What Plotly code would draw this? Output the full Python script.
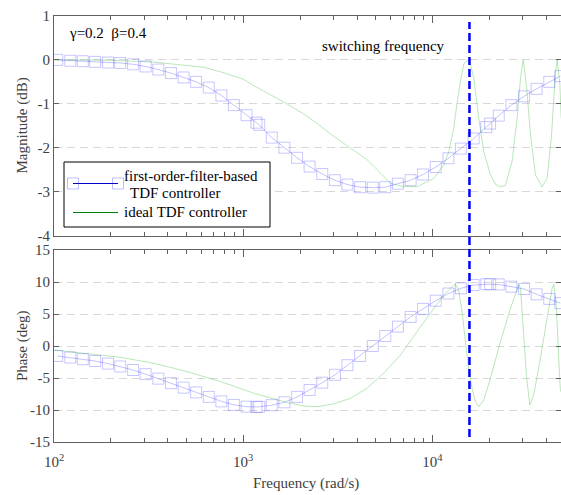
import plotly.graph_objects as go

# ---------------- data ----------------
# first-order-filter-based TDF controller (blue, squares)
blue_freq = [104, 122, 142, 165, 193, 224, 262, 305, 356, 415, 484, 564, 658, 767, 893,
             1042, 1175, 1216, 1416, 1652, 1928, 2244, 2618, 3055, 3556, 4150, 4842, 5636,
             6577, 7674, 8933, 10423, 12162, 14158, 16520, 19275, 20200, 22439, 26182,
             30549, 35563, 41495, 47500]
blue_mag = [0.0, -0.02, -0.03, -0.045, -0.06, -0.07, -0.10, -0.15, -0.22, -0.30, -0.40, -0.50,
            -0.63, -0.81, -1.03, -1.26, -1.43, -1.48, -1.77, -2.00, -2.23, -2.43, -2.60, -2.74,
            -2.84, -2.90, -2.91, -2.90, -2.82, -2.74, -2.61, -2.44, -2.24, -2.02, -1.79, -1.53,
            -1.45, -1.27, -1.03, -0.83, -0.66, -0.50, -0.37]
blue_phase = [-1.56, -1.80, -2.05, -2.35, -2.75, -3.2, -3.75, -4.4, -5.1, -5.8, -6.5, -7.25,
              -7.95, -8.65, -9.2, -9.48, -9.52, -9.5, -9.25, -8.8, -7.95, -6.88, -5.73, -4.5,
              -3.0, -1.56, 0.0, 1.56, 3.02, 4.55, 5.8, 7.08, 8.2, 9.01, 9.53, 9.65, 9.66, 9.62,
              9.27, 8.9, 8.07, 7.36, 6.7]

# ideal TDF controller (green)
green_mag_freq = [100, 200, 338, 450, 622, 800, 1000, 1143, 1400, 1718, 2104, 2500, 3006, 3673,
                  4508, 5248, 5998, 6918, 8299, 10162, 11482, 12218, 12972, 13490, 14060,
                  14655, 15311, 15849, 16558, 17579, 18707, 20277, 21627, 22909, 24322, 26363,
                  28054, 29242, 30200, 31405, 33037, 35075, 38019, 40458, 42658, 44771, 45709,
                  47206, 47973]
green_mag = [0.0, -0.01, -0.05, -0.10, -0.17, -0.30, -0.44, -0.59, -0.80, -1.01, -1.24, -1.47,
             -1.74, -2.00, -2.27, -2.55, -2.81, -2.88, -2.89, -2.70, -2.39, -2.09, -1.56, -1.00,
             -0.49, -0.10, 0.0, -0.08, -0.41, -1.33, -2.09, -2.62, -2.84, -2.89, -2.86, -2.32,
             -1.33, -0.41, 0.0, -0.56, -1.71, -2.62, -2.89, -2.70, -1.71, -0.26, 0.0, -0.56,
             -1.33]
green_phase_freq = [100, 150, 225, 338, 507, 762, 1143, 1718, 2104, 2455, 3006, 3681, 4508,
                    5521, 6776, 8414, 10162, 11482, 12972, 13243, 13772, 14355, 14962, 15560,
                    16218, 16904, 17579, 18707, 20277, 22909, 25882, 28642, 29242, 30200,
                    31405, 32734, 34356, 37239, 40458, 42954, 43853, 45082, 46559, 47534]
green_phase = [-0.63, -1.15, -1.77, -2.71, -4.01, -5.57, -7.40, -8.85, -9.38, -9.48, -9.06,
               -8.18, -6.61, -4.27, -1.41, 2.5, 5.89, 7.97, 9.5, 9.6, 8.75, 5.36, 0.68, -3.49,
               -6.61, -8.7, -9.48, -8.44, -5.05, 0.68, 5.89, 9.6, 9.0, 3.28, -4.53, -9.22,
               -7.66, -1.93, 4.32, 9.01, 9.6, 6.93, -1.93, -7.14]

switching_freq = 15708  # rad/s

mag_ticks = [1, 0, -1, -2, -3, -4]
phase_ticks = [15, 10, 5, 0, -5, -10, -15]
freq_ticks = [100, 1000, 10000]
freq_tick_text = ["10<sup>2</sup>", "10<sup>3</sup>", "10<sup>4</sup>"]
minor_freq = [m * d for d in (100, 1000, 10000) for m in range(2, 10) if m * d < 48000]

# ---------------- style ----------------
FONT = '"Liberation Serif", "Times New Roman", serif'
BLUE_FAINT = "rgba(40,40,255,0.26)"
BLUE_LINE = "rgba(40,40,255,0.28)"
GREEN_FAINT = "rgba(0,170,0,0.28)"
AXIS_COL = "#606060"
TEXT_COL = "#404040"
GRID_COL = "#d8d8d8"

fig = go.Figure()

blue_style = dict(mode="lines+markers",
                  line=dict(color=BLUE_LINE, width=1),
                  marker=dict(symbol="square-open", size=11,
                              color=BLUE_FAINT, line=dict(width=1, color=BLUE_FAINT)),
                  showlegend=False, hoverinfo="skip")
green_style = dict(mode="lines", line=dict(color=GREEN_FAINT, width=1),
                   showlegend=False, hoverinfo="skip")

fig.add_trace(go.Scatter(x=green_mag_freq, y=green_mag, xaxis="x", yaxis="y", **green_style))
fig.add_trace(go.Scatter(x=blue_freq, y=blue_mag, xaxis="x", yaxis="y", **blue_style))
fig.add_trace(go.Scatter(x=green_phase_freq, y=green_phase, xaxis="x2", yaxis="y2", **green_style))
fig.add_trace(go.Scatter(x=blue_freq, y=blue_phase, xaxis="x2", yaxis="y2", **blue_style))

W, H = 561, 495
ML, MR, MT, MB = 54, 0, 16, 53
PW, PH = W - ML - MR, H - MT - MB
top_bottom_px = 235.5
bot_top_px = 250


def px_x(px):
    return (px - ML) / PW


def px_y(py):
    return (H - MB - py) / PH


xcommon = dict(type="log", range=[2, 4.68], showgrid=False, zeroline=False,
               showline=True, linecolor=AXIS_COL, linewidth=1, mirror="ticks",
               ticks="inside", ticklen=7, tickcolor=AXIS_COL, tickwidth=1,
               tickvals=freq_ticks, ticktext=freq_tick_text,
               minor=dict(tickvals=minor_freq, ticks="inside", ticklen=4,
                          tickcolor=AXIS_COL, showgrid=False),
               tickfont=dict(family=FONT, size=15, color=TEXT_COL))
ycommon = dict(showgrid=True, gridcolor=GRID_COL, griddash="8px,5px", gridwidth=1,
               zeroline=False, showline=True, linecolor=AXIS_COL, linewidth=1,
               mirror="ticks", ticks="inside", ticklen=5, tickcolor=AXIS_COL,
               tickfont=dict(family=FONT, size=15, color=TEXT_COL))

fig.update_layout(
    width=W, height=H,
    margin=dict(l=ML, r=MR, t=MT, b=MB, pad=0),
    paper_bgcolor="white", plot_bgcolor="white",
    font=dict(family=FONT, size=15, color=TEXT_COL),
    xaxis=dict(domain=[0, 1], anchor="y", showticklabels=False, **xcommon),
    xaxis2=dict(domain=[0, 1], anchor="y2", matches="x", showticklabels=True,
                ticklabelstandoff=6, **xcommon),
    yaxis=dict(domain=[px_y(top_bottom_px), 1], anchor="x", range=[-4, 1],
               tickvals=mag_ticks, ticktext=[str(v) for v in mag_ticks], **ycommon),
    yaxis2=dict(domain=[0, px_y(bot_top_px)], anchor="x2", range=[-15, 15],
                tickvals=phase_ticks, ticktext=[str(v) for v in phase_ticks], **ycommon),
)

# switching frequency line
fig.add_shape(type="line", xref="x", yref="paper", x0=switching_freq, x1=switching_freq,
              y0=px_y(437), y1=px_y(22), line=dict(color="#0000ff", width=2.5, dash="8px,4px"),
              layer="above")

# legend (drawn by hand)
fig.add_shape(type="rect", xref="paper", yref="paper", x0=px_x(64), x1=px_x(270),
              y0=px_y(227), y1=px_y(162), line=dict(color="black", width=1),
              fillcolor="white", layer="above")
fig.add_shape(type="line", xref="paper", yref="paper", x0=px_x(73), x1=px_x(118),
              y0=px_y(183.5), y1=px_y(183.5), line=dict(color="#0000c8", width=1), layer="above")
for cx in (73, 118):
    fig.add_shape(type="rect", xref="paper", yref="paper", x0=px_x(cx - 5.5), x1=px_x(cx + 5.5),
                  y0=px_y(189), y1=px_y(178), line=dict(color="rgba(40,40,255,0.3)", width=1),
                  layer="above")
fig.add_shape(type="line", xref="paper", yref="paper", x0=px_x(73), x1=px_x(118),
              y0=px_y(212.5), y1=px_y(212.5), line=dict(color="#008000", width=1), layer="above")

ann_font = dict(family=FONT, size=15, color="black")
annotations = [
    dict(text="first-order-filter-based", x=px_x(122), y=px_y(175.5)),
    dict(text="TDF controller", x=px_x(128), y=px_y(193)),
    dict(text="ideal TDF controller", x=px_x(122), y=px_y(212)),
    dict(text="\u03b3=0.2\u00a0\u00a0\u03b2=0.4", x=px_x(67), y=px_y(33)),
    dict(text="switching frequency", x=px_x(320), y=px_y(46.5)),
]
for a in annotations:
    fig.add_annotation(xref="paper", yref="paper", xanchor="left", yanchor="middle",
                       showarrow=False, font=ann_font, **a)

title_font = dict(family=FONT, size=15, color=TEXT_COL)
fig.add_annotation(text="Magnitude (dB)", xref="paper", yref="paper", x=px_x(22),
                   y=px_y(125.5), textangle=-90, showarrow=False, font=title_font,
                   xanchor="center", yanchor="middle")
fig.add_annotation(text="Phase (deg)", xref="paper", yref="paper", x=px_x(22),
                   y=px_y(346), textangle=-90, showarrow=False, font=title_font,
                   xanchor="center", yanchor="middle")
fig.add_annotation(text="Frequency (rad/s)", xref="paper", yref="paper", x=px_x(306),
                   y=px_y(483), showarrow=False, font=title_font,
                   xanchor="center", yanchor="middle")

fig.write_html("out.html", config={"displayModeBar": False},
               post_script="document.body.style.margin='0';document.body.style.overflow='hidden';")
